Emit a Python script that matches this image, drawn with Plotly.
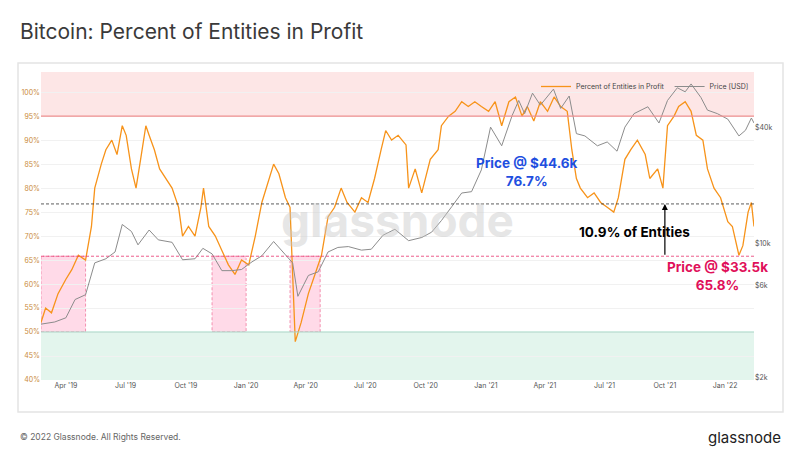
import plotly.graph_objects as go

profit_dates = ["2019-02-22","2019-03-01","2019-03-10","2019-03-20","2019-04-01","2019-04-10","2019-04-20","2019-05-01","2019-05-10","2019-05-15","2019-05-25","2019-06-01","2019-06-10","2019-06-18","2019-06-26","2019-07-02","2019-07-10","2019-07-17","2019-07-24","2019-08-01","2019-08-06","2019-08-14","2019-08-22","2019-09-01","2019-09-10","2019-09-20","2019-09-26","2019-10-05","2019-10-15","2019-10-24","2019-10-28","2019-11-05","2019-11-15","2019-11-25","2019-12-05","2019-12-15","2019-12-25","2020-01-05","2020-01-15","2020-01-25","2020-02-05","2020-02-12","2020-02-20","2020-03-01","2020-03-08","2020-03-12","2020-03-16","2020-03-25","2020-04-05","2020-04-15","2020-04-25","2020-05-05","2020-05-15","2020-05-25","2020-06-03","2020-06-15","2020-06-25","2020-07-05","2020-07-15","2020-07-25","2020-08-01","2020-08-10","2020-08-20","2020-09-01","2020-09-05","2020-09-15","2020-09-25","2020-10-08","2020-10-20","2020-10-25","2020-11-05","2020-11-15","2020-11-25","2020-12-05","2020-12-15","2020-12-25","2021-01-05","2021-01-15","2021-01-25","2021-02-05","2021-02-15","2021-02-25","2021-03-05","2021-03-15","2021-03-25","2021-04-05","2021-04-15","2021-04-25","2021-05-05","2021-05-12","2021-05-19","2021-05-25","2021-06-05","2021-06-15","2021-06-25","2021-07-05","2021-07-15","2021-07-22","2021-08-01","2021-08-10","2021-08-20","2021-09-01","2021-09-08","2021-09-20","2021-09-28","2021-10-05","2021-10-15","2021-10-22","2021-11-01","2021-11-10","2021-11-18","2021-11-28","2021-12-05","2021-12-15","2021-12-25","2022-01-05","2022-01-12","2022-01-22","2022-01-28","2022-02-05","2022-02-10","2022-02-14"]
profit_vals = [52,55,54,58,61,63,66,65,72,80,85,88,90,87,93,91,84,80,86,93,91,88,84,82,80,76,70,72,70,76,80,72,70,67,64,62,65,64,70,77,82,85,83,78,76,63,48,52,58,62,66,74,76,80,77,75,78,77,82,88,92,90,91,89,80,84,79,86,88,93,95,96,98,97,98,97,96,98,93,98,99,95,97,94,98,96,99,97,96,88,82,80,78,79,77,76,75,78,86,88,90,87,82,84,80,93,95,97,98,96,91,90,84,80,78,73,72,66,68,75,77,72]

price_dates = ["2019-02-22","2019-03-15","2019-04-01","2019-04-15","2019-05-01","2019-05-15","2019-06-01","2019-06-15","2019-06-26","2019-07-10","2019-07-20","2019-08-06","2019-08-20","2019-09-10","2019-09-26","2019-10-15","2019-10-27","2019-11-10","2019-11-25","2019-12-10","2019-12-25","2020-01-10","2020-01-25","2020-02-12","2020-03-01","2020-03-12","2020-03-20","2020-04-05","2020-04-20","2020-05-05","2020-05-20","2020-06-05","2020-06-25","2020-07-10","2020-07-28","2020-08-15","2020-09-05","2020-09-25","2020-10-10","2020-10-25","2020-11-10","2020-11-25","2020-12-10","2020-12-25","2021-01-08","2021-01-25","2021-02-10","2021-02-20","2021-03-01","2021-03-13","2021-03-25","2021-04-14","2021-04-25","2021-05-08","2021-05-19","2021-06-01","2021-06-20","2021-07-05","2021-07-20","2021-08-01","2021-08-15","2021-09-05","2021-09-22","2021-10-05","2021-10-20","2021-11-01","2021-11-10","2021-11-25","2021-12-05","2021-12-20","2022-01-05","2022-01-22","2022-02-01","2022-02-10","2022-02-14"]
price_vals = [3800,3900,4100,5100,5400,7900,8300,9000,12500,11500,9800,11700,10400,10100,8200,8300,9400,8800,7200,7200,7300,8000,8600,10200,8700,7900,5300,6800,7100,9000,9500,9600,9200,9300,11000,11800,10300,10700,11400,13100,15500,18200,18500,24000,40000,32000,46000,55000,47000,60000,52000,63000,50000,58000,37000,36000,32000,33500,30000,40000,47000,51000,42000,55000,64000,61000,67000,57000,49000,47000,44000,36000,38500,44600,42000]

fig = go.Figure()
fig.add_trace(go.Scatter(x=price_dates, y=price_vals, yaxis="y2", mode="lines",
                         line=dict(color="#8c8c8c", width=1), name="Price [USD]"))
fig.add_trace(go.Scatter(x=profit_dates, y=profit_vals, mode="lines",
                         line=dict(color="#f7931a", width=1.3), name="Percent of Entities in Profit"))

shapes = [
    dict(type="rect", xref="paper", yref="y", x0=0, x1=1, y0=95, y1=104.2, fillcolor="rgba(250,200,200,0.45)", line_width=0, layer="below"),
    dict(type="line", xref="paper", yref="y", x0=0, x1=1, y0=95, y1=95, line=dict(color="#ef8f8f", width=1.2)),
    dict(type="rect", xref="paper", yref="y", x0=0, x1=1, y0=40, y1=50, fillcolor="rgba(200,235,220,0.5)", line_width=0, layer="below"),
    dict(type="line", xref="paper", yref="y", x0=0, x1=1, y0=50, y1=50, line=dict(color="#9fd8c4", width=1.2)),
    dict(type="line", xref="paper", yref="y", x0=0, x1=1, y0=76.7, y1=76.7, line=dict(color="#333", width=0.8, dash="3px,2px")),
    dict(type="line", xref="paper", yref="y", x0=0, x1=1, y0=65.8, y1=65.8, line=dict(color="#e8336e", width=0.8, dash="3px,2px")),
]
for a, b in [("2019-02-22", "2019-05-01"), ("2019-11-10", "2020-01-01"), ("2020-03-08", "2020-04-23")]:
    shapes.append(dict(type="rect", xref="x", yref="y", x0=a, x1=b, y0=50, y1=65.8,
                       fillcolor="rgba(255,150,190,0.35)", line=dict(color="#f07aa0", width=0.8, dash="3px,2px"), layer="below"))
shapes.append(dict(type="rect", xref="paper", yref="paper", x0=-23/713, x1=1+29/713, y0=-32/308, y1=1+9/308,
                   line=dict(color="#e4e4e4", width=1.5), layer="below"))

annotations = [
    dict(text="<b>glassnode</b>", xref="paper", yref="paper", x=0.5, y=0.52, showarrow=False,
         font=dict(size=46, color="rgba(200,200,200,0.45)", family="Inter")),
    dict(text="<b>Price @ $44.6k<br>76.7%</b>", x="2021-03-05", y=83.3, showarrow=False,
         font=dict(size=13.5, color="#1f4fe0", family="Inter"), align="center"),
    dict(text="<b>10.9% of Entities</b>", x="2021-08-15", y=70.8, showarrow=False,
         font=dict(size=13.5, color="#000", family="Inter")),
    dict(text="<b>Price @ $33.5k<br>65.8%</b>", x="2021-12-20", y=61.7, showarrow=False,
         font=dict(size=13.5, color="#e0105a", family="Inter"), align="center"),
    dict(x="2021-10-01", y=76.7, ax="2021-10-01", ay=65.8, xref="x", yref="y", axref="x", ayref="y",
         text="", showarrow=True, arrowhead=2, arrowsize=1, arrowwidth=1.2, arrowcolor="#000"),
    dict(text="Bitcoin: Percent of Entities in Profit", xref="paper", yref="paper", x=-23/713, y=1+40/308,
         xanchor="left", yanchor="middle", showarrow=False, font=dict(size=21, color="#3a3a3a", family="Inter")),
    dict(text="© 2022 Glassnode. All Rights Reserved.", xref="paper", yref="paper", x=-23/713, y=-57/308,
         xanchor="left", yanchor="middle", showarrow=False, font=dict(size=8.5, color="#666", family="Inter")),
    dict(text="glassnode", xref="paper", yref="paper", x=1+29/713, y=-57/308,
         xanchor="right", yanchor="middle", showarrow=False, font=dict(size=15, color="#222", family="Inter")),
]

fig.update_layout(
    width=800, height=461, autosize=False,
    margin=dict(l=41, r=46, t=72, b=81, autoexpand=False),
    paper_bgcolor="white", plot_bgcolor="white",
    font=dict(family="Inter", size=8, color="#555"),
    showlegend=True,
    legend=dict(orientation="h", x=1, xanchor="right", y=1.0, yanchor="top", bgcolor="rgba(0,0,0,0)",
                font=dict(size=7, color="#444"), traceorder="reversed", itemwidth=30),
    xaxis=dict(range=["2019-02-22", "2022-02-14"], showgrid=False, zeroline=False, automargin=False,
               tickvals=["2019-04-01","2019-07-01","2019-10-01","2020-01-01","2020-04-01","2020-07-01","2020-10-01","2021-01-01","2021-04-01","2021-07-01","2021-10-01","2022-01-01"],
               ticktext=["Apr '19","Jul '19","Oct '19","Jan '20","Apr '20","Jul '20","Oct '20","Jan '21","Apr '21","Jul '21","Oct '21","Jan '22"],
               tickfont=dict(size=7, color="#555"), ticks=""),
    yaxis=dict(range=[40, 104.2], tickvals=[40,45,50,55,60,65,70,75,80,85,90,95,100], automargin=False,
               ticktext=[f"{v}%" for v in [40,45,50,55,60,65,70,75,80,85,90,95,100]],
               tickfont=dict(size=7, color="#c98a3a"), gridcolor="#f1f1f1", zeroline=False),
    yaxis2=dict(type="log", overlaying="y", side="right", range=[3.29, 4.888], automargin=False,
                tickvals=[2000, 6000, 10000, 40000], ticktext=["$2k","$6k","$10k","$40k"],
                tickfont=dict(size=7, color="#555"), showgrid=False, zeroline=False),
    shapes=shapes, annotations=annotations,
)
fig.write_html("out.html", config={"displayModeBar": False},
               post_script="document.body.style.margin='0';document.body.style.overflow='hidden';")
